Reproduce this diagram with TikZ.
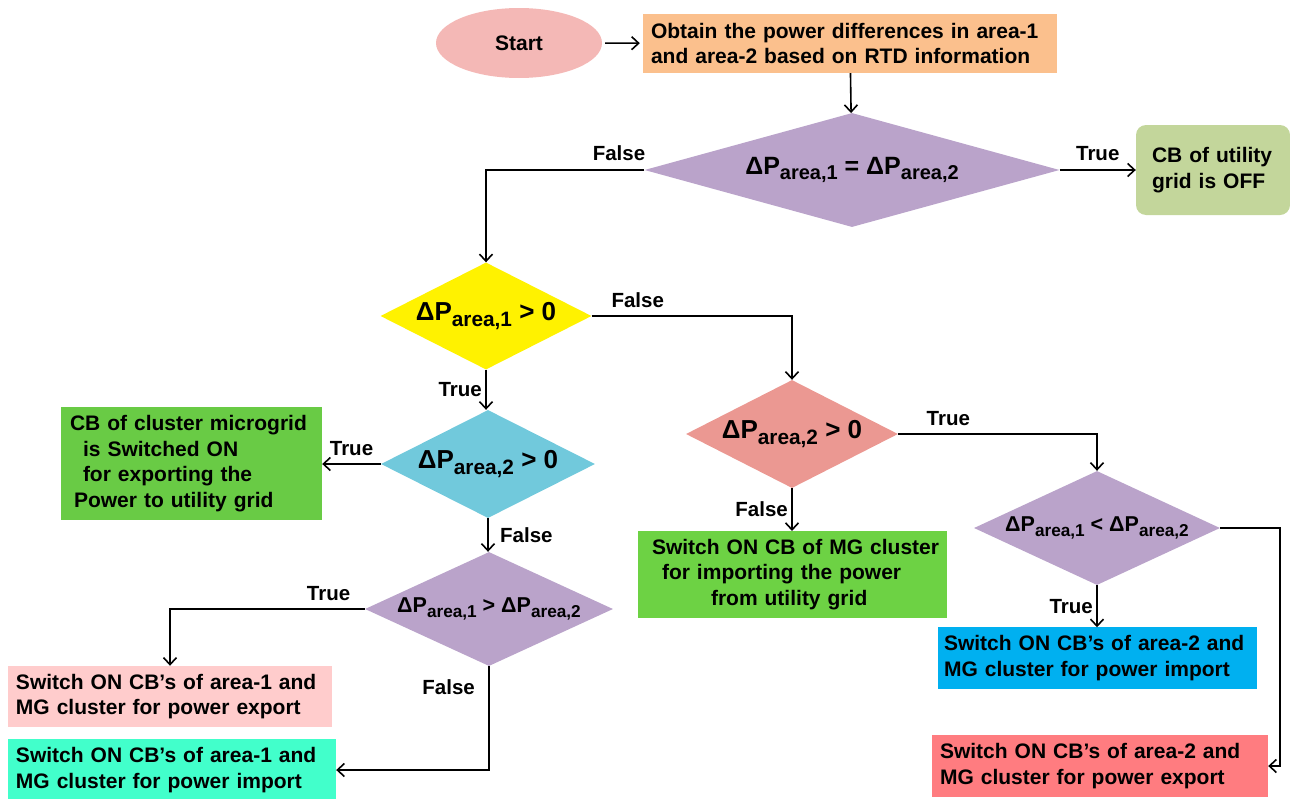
\documentclass[tikz,border=0pt]{standalone}
\usepackage{graphicx}
\usepackage{fontspec}
\setmainfont{Liberation Sans}
\usetikzlibrary{shapes.geometric,arrows.meta}
\definecolor{startpink}{HTML}{F4B8B6}
\definecolor{obtainorange}{HTML}{FBC08D}
\definecolor{decpurple}{HTML}{BAA3CA}
\definecolor{decblue}{HTML}{71C9DC}
\definecolor{decsalmon}{HTML}{EB9892}
\definecolor{offgreen}{HTML}{C3D69B}
\definecolor{mggreen}{HTML}{69CB45}
\definecolor{impgreen}{HTML}{6DD244}
\definecolor{boxpink}{HTML}{FFCCCC}
\definecolor{boxaqua}{HTML}{42FFCB}
\definecolor{boxblue}{HTML}{00B0F0}
\definecolor{boxred}{HTML}{FF7C80}
\newcommand{\dP}[1]{ΔP\raisebox{-0.42ex}{\scalebox{0.8}{area,#1}}}
\tikzset{
  box/.style={rectangle, inner sep=8pt, align=left},
  decision/.style={diamond, inner sep=0pt, aspect=2, font=\bfseries\fontsize{26}{28}\selectfont},
  smalldec/.style={decision, font=\bfseries\fontsize{21.5}{24}\selectfont},
  flow/.style={-{Straight Barb[length=7pt,width=13pt]}, line width=1.6pt},
  lbl/.style={font=\bfseries\fontsize{20.5}{22}\selectfont}
}
\begin{document}
\begin{tikzpicture}[x=1pt, y=-1pt, font=\bfseries\fontsize{21}{25.5}\selectfont]
  \useasboundingbox (0,0) rectangle (1290,798);
  % top row
  \node[ellipse, fill=startpink, minimum width=166, minimum height=70] (start) at (519,43) {Start};
  \node[box, fill=obtainorange, minimum width=414, minimum height=59, text width=398] (obtain) at (850,43.5)
    {Obtain the power differences in area-1\\and area-2 based on RTD information};
  \node[decision, aspect=3.6, fill=decpurple, minimum width=415, minimum height=114,
    font=\bfseries\fontsize{25}{28}\selectfont] (equal) at (852,170) {\dP1 = \dP2};
  \node[box, fill=offgreen, rounded corners=10, inner xsep=16pt, minimum width=154, minimum height=90, text width=122] (cboff) at (1213,170)
    {CB of utility\\grid is OFF};
  % left branch
  \node[decision, fill=yellow, minimum width=211, minimum height=107] (pos1) at (486,316) {\dP1 > 0};
  \node[decision, fill=decblue, minimum width=214, minimum height=108] (pos2a) at (488,464) {\dP2 > 0};
  \node[box, fill=mggreen, inner xsep=4pt, minimum width=261, minimum height=111, text width=253] (cbexport) at (191.5,463.5)
    {\hspace*{5pt}CB of cluster microgrid\\\hspace*{18pt}is Switched ON\\\hspace*{18pt}for exporting the\\\hspace*{9pt}Power to utility grid};
  \node[smalldec, fill=decpurple, minimum width=248, minimum height=109] (greater) at (489,609) {\dP1 > \dP2};
  \node[box, fill=boxpink, minimum width=324, minimum height=59, text width=308] (exparea1) at (170,696.5)
    {Switch ON CB’s of area-1 and\\MG cluster for power export};
  \node[box, fill=boxaqua, minimum width=328, minimum height=56, text width=312] (imparea1) at (172,770)
    {Switch ON CB’s of area-1 and\\MG cluster for power import};
  % right branch
  \node[decision, fill=decsalmon, minimum width=212, minimum height=108] (pos2b) at (792,434) {\dP2 > 0};
  \node[box, fill=impgreen, inner xsep=4pt, minimum width=309, minimum height=85, text width=301] (cbimport) at (792.5,574.5)
    {\hspace*{10pt}Switch ON CB of MG cluster\\\hspace*{20pt}for importing the power\\\hspace*{69pt}from utility grid};
  \node[smalldec, fill=decpurple, minimum width=246, minimum height=108] (less) at (1097,528) {\dP1 < \dP2};
  \node[box, fill=boxblue, inner xsep=6pt, minimum width=319, minimum height=60, text width=307] (imparea2) at (1097.5,658)
    {Switch ON CB’s of area-2 and\\MG cluster for power import};
  \node[box, fill=boxred, minimum width=336, minimum height=60, text width=320] (exparea2) at (1100,766)
    {Switch ON CB’s of area-2 and\\MG cluster for power export};

  \draw[flow, shorten <=3pt, shorten >=3pt] (start) -- (obtain);
  \draw[flow] (obtain) -- (equal);
  \draw[flow] (equal) -- node[lbl, above=5pt] {True} (cboff);
  \draw[flow] (equal.west) -| node[lbl, above=5pt, pos=0.08] {False} (pos1.north);
  \draw[flow] (pos1.east) -| node[lbl, above=4pt, pos=0.115] {False} (pos2b.north);
  \draw[flow] (pos1.south) -- node[lbl, left] {True} (pos1.south |- pos2a.north);
  \draw[flow] (pos2a.west) -- node[lbl, above=4pt] {True} (cbexport.east |- pos2a.west);
  \draw[flow] (pos2a.south) -- node[lbl, right=8pt] {False} (pos2a.south |- greater.north);
  \draw[flow] (greater.west) -| node[lbl, above=4pt, pos=0.093] {True} (exparea1.north);
  \draw[flow] (greater.south) |- node[lbl, left=10pt, pos=0.1] {False} (imparea1.east);
  \draw[flow] (pos2b.south) -- node[lbl, left] {False} (pos2b.south |- cbimport.north);
  \draw[flow] (pos2b.east) -| node[lbl, above=4pt, pos=0.126] {True} (less.north);
  \draw[flow] (less.south) -- node[lbl, left] {True} (less.south |- imparea2.north);
  \draw[flow] (less.east) -- ++(60,0) |- (exparea2.east);
\end{tikzpicture}
\end{document}
